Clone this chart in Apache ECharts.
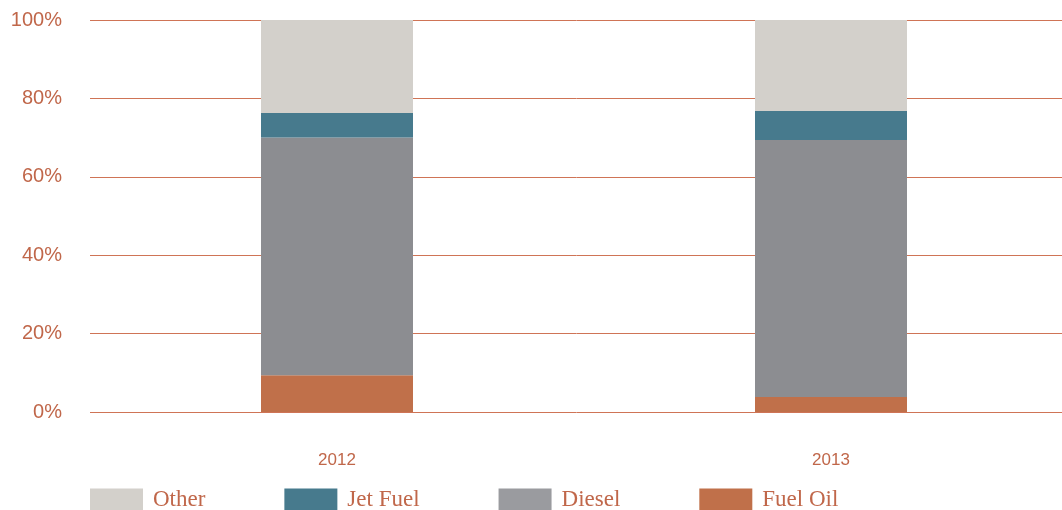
<!DOCTYPE html>
<html>
<head>
<meta charset="utf-8">
<script src="https://cdn.jsdelivr.net/npm/echarts@6/dist/echarts.min.js"></script>
<style>
  html, body { margin: 0; padding: 0; background: #fff; }
  #chart { width: 1062px; height: 510px; }
</style>
</head>
<body>
<div id="chart"></div>
<script>
// 数据
const years = ['2012', '2013'];
const fuelOil = [9.4, 3.8];
const diesel = [60.6, 65.6];
const jetFuel = [6.3, 7.4];
const other = [23.7, 23.2];
const yTicks = [0, 20, 40, 60, 80, 100];

const textColor = '#c0674a';
const lineColor = '#cf7456';

const chart = echarts.init(document.getElementById('chart'));

const makeSeries = (name, data, color) => ({
  name,
  type: 'bar',
  stack: 'total',
  data,
  barWidth: 152,
  itemStyle: { color },
});

chart.setOption({
  animation: false,
  // grid 右侧超出画布，使两个类别中心落在 336 / 830
  grid: { left: 90, width: 988, top: 20, height: 392, outerBoundsMode: 'none', containLabel: false },
  legend: {
    left: 90,
    top: 488,
    padding: 0,
    itemWidth: 53,
    itemHeight: 22,
    itemGap: 79,
    icon: 'rect',
    textStyle: { color: textColor, fontFamily: 'Liberation Serif', fontSize: 23, padding: [0, 0, 0, 5] },
    data: [
      { name: 'Other' },
      { name: 'Jet Fuel' },
      { name: 'Diesel', itemStyle: { color: '#9a9b9f' } },
      { name: 'Fuel Oil' },
    ],
  },
  xAxis: {
    type: 'category',
    data: years,
    axisLine: { show: false },
    axisTick: { show: false },
    axisLabel: { color: textColor, fontFamily: 'Liberation Sans', fontSize: 17, margin: 40 },
  },
  yAxis: {
    type: 'value',
    min: yTicks[0],
    max: yTicks[yTicks.length - 1],
    interval: 20,
    axisLine: { show: false },
    axisTick: { show: false },
    axisLabel: { color: textColor, fontFamily: 'Liberation Sans', fontSize: 20, margin: 28, formatter: '{value}%' },
    splitLine: { lineStyle: { color: lineColor, width: 1 } },
  },
  series: [
    makeSeries('Fuel Oil', fuelOil, '#c0704a'),
    makeSeries('Diesel', diesel, '#8c8d91'),
    makeSeries('Jet Fuel', jetFuel, '#477a8d'),
    makeSeries('Other', other, '#d3d0cb'),
  ],
});
</script>
</body>
</html>
